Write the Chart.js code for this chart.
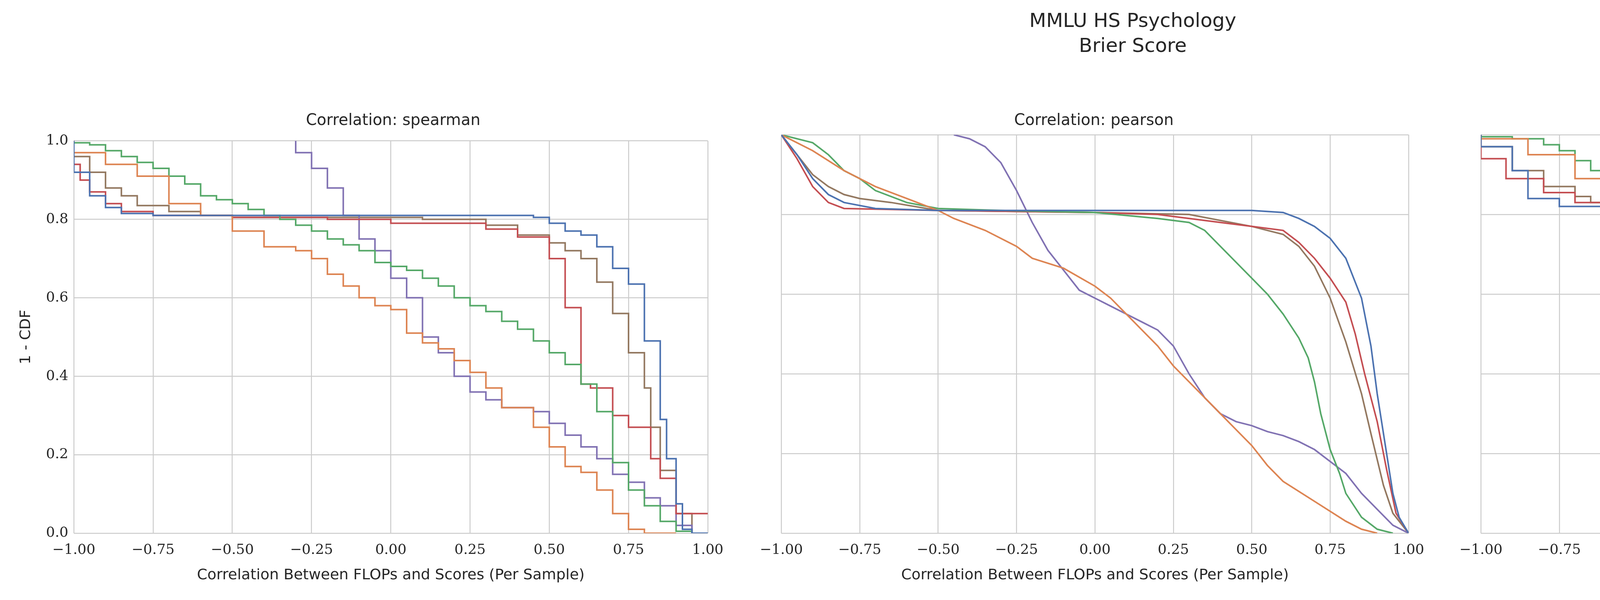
<!DOCTYPE html>
<html>
<head>
<meta charset="utf-8">
<script src="https://cdn.jsdelivr.net/npm/chart.js@4.4.0/dist/chart.umd.min.js"></script>
<style>
  body { margin: 0; width: 6541px; height: 1536px; background: #fff; position: relative; overflow: hidden; font-family: "DejaVu Sans", sans-serif; color: #262626; }
  canvas { position: absolute; }
  .txt { position: absolute; text-align: center; white-space: nowrap; }
  #legend { position: absolute; left: 5500px; top: 90px; font-size: 40px; }
  #legend .head { text-align: center; margin-bottom: 22px; margin-left: 40px; }
  #legend .row { display: flex; align-items: center; height: 62px; }
  #legend .sw { width: 88px; height: 5px; margin-right: 22px; }
</style>
</head>
<body>
<div class="txt" style="left:2400px;width:1000px;top:20px;font-size:50px;line-height:64px">MMLU HS Psychology<br>Brier Score</div>
<div id="legend"><div class="head">Model Family</div></div>

<script>
// model families and colours (seaborn deep)
const families = [
  'Cerebras (Param. and Data Scaling)',
  'INCITE 7B Param. (Data Scaling)',
  'LLM360 Amber 7B Tokens (Param Scaling)',
  'OLMo 7B Param. (Data Scaling)',
  'Pythia 12B Param. (Data Scaling)',
  'Pythia 300B Tokens (Param. Scaling)'
];
const colors = ['#4c72b0', '#dd8452', '#55a868', '#c44e52', '#8172b3', '#937860'];

const panelTitles = ['Correlation: spearman', 'Correlation: pearson', 'Correlation: kendall'];
const xTicks = [-1, -0.75, -0.5, -0.25, 0, 0.25, 0.5, 0.75, 1];
const yTicks = [0, 0.2, 0.4, 0.6, 0.8, 1.0];

// 1 - CDF points: [correlation, value]
const spearman = [
  [[-1,1],[-0.95,0.92],[-0.9,0.86],[-0.85,0.83],[-0.75,0.815],[-0.5,0.81],[0.45,0.81],[0.5,0.805],[0.55,0.79],[0.6,0.77],[0.65,0.76],[0.7,0.73],[0.75,0.675],[0.8,0.635],[0.85,0.49],[0.87,0.29],[0.9,0.19],[0.92,0.075],[0.95,0.01],[1,0]],
  [[-1,1],[-0.9,0.97],[-0.8,0.94],[-0.7,0.91],[-0.6,0.84],[-0.5,0.81],[-0.4,0.77],[-0.3,0.73],[-0.25,0.72],[-0.2,0.7],[-0.15,0.66],[-0.1,0.63],[-0.05,0.6],[0,0.58],[0.05,0.57],[0.1,0.51],[0.15,0.485],[0.2,0.47],[0.25,0.44],[0.3,0.41],[0.35,0.37],[0.45,0.32],[0.5,0.27],[0.55,0.22],[0.6,0.17],[0.65,0.155],[0.7,0.11],[0.75,0.05],[0.8,0.01],[0.9,0]],
  [[-1,1],[-0.95,0.995],[-0.9,0.99],[-0.85,0.975],[-0.8,0.96],[-0.75,0.945],[-0.7,0.93],[-0.65,0.91],[-0.6,0.89],[-0.55,0.86],[-0.5,0.85],[-0.45,0.84],[-0.4,0.825],[-0.35,0.81],[-0.3,0.8],[-0.25,0.785],[-0.2,0.77],[-0.15,0.75],[-0.1,0.735],[-0.05,0.72],[0,0.69],[0.05,0.68],[0.1,0.67],[0.15,0.65],[0.2,0.63],[0.25,0.6],[0.3,0.58],[0.35,0.565],[0.4,0.54],[0.45,0.52],[0.5,0.49],[0.55,0.46],[0.6,0.43],[0.65,0.38],[0.7,0.31],[0.75,0.18],[0.8,0.11],[0.85,0.07],[0.9,0.03],[0.95,0.005],[1,0]],
  [[-1,1],[-0.98,0.94],[-0.95,0.9],[-0.9,0.87],[-0.85,0.84],[-0.75,0.82],[-0.5,0.81],[-0.2,0.805],[0,0.8],[0.2,0.79],[0.3,0.79],[0.4,0.775],[0.5,0.755],[0.55,0.7],[0.6,0.575],[0.63,0.38],[0.7,0.37],[0.75,0.3],[0.82,0.27],[0.85,0.19],[0.9,0.14],[0.95,0.05],[1,0.05]],
  [[-0.3,1],[-0.25,0.97],[-0.2,0.93],[-0.15,0.88],[-0.1,0.81],[-0.05,0.75],[0,0.72],[0.05,0.65],[0.1,0.6],[0.15,0.5],[0.2,0.46],[0.25,0.4],[0.3,0.36],[0.35,0.34],[0.45,0.32],[0.5,0.31],[0.55,0.28],[0.6,0.25],[0.65,0.22],[0.7,0.19],[0.75,0.15],[0.8,0.13],[0.85,0.09],[0.9,0.07],[0.95,0.02],[1,0]],
  [[-1,1],[-0.95,0.96],[-0.9,0.92],[-0.85,0.88],[-0.8,0.86],[-0.7,0.835],[-0.6,0.82],[-0.5,0.81],[0.1,0.805],[0.3,0.8],[0.4,0.785],[0.5,0.76],[0.55,0.74],[0.6,0.72],[0.65,0.7],[0.7,0.64],[0.75,0.56],[0.8,0.46],[0.82,0.37],[0.85,0.27],[0.9,0.16],[0.95,0.05],[1,0]]
];
const pearson = [
  [[-1,1],[-0.95,0.95],[-0.9,0.89],[-0.85,0.85],[-0.8,0.83],[-0.7,0.815],[-0.5,0.81],[0.5,0.81],[0.6,0.805],[0.65,0.79],[0.7,0.77],[0.75,0.74],[0.8,0.69],[0.85,0.59],[0.88,0.47],[0.9,0.35],[0.93,0.2],[0.95,0.1],[0.97,0.04],[1,0]],
  [[-1,1],[-0.9,0.96],[-0.8,0.91],[-0.7,0.87],[-0.6,0.84],[-0.5,0.81],[-0.45,0.79],[-0.35,0.76],[-0.25,0.72],[-0.2,0.69],[-0.1,0.665],[0,0.62],[0.05,0.59],[0.1,0.55],[0.15,0.51],[0.2,0.47],[0.25,0.42],[0.3,0.38],[0.35,0.34],[0.4,0.3],[0.45,0.26],[0.5,0.22],[0.55,0.17],[0.6,0.13],[0.7,0.08],[0.8,0.03],[0.85,0.01],[0.9,0]],
  [[-1,1],[-0.9,0.98],[-0.85,0.95],[-0.8,0.91],[-0.75,0.89],[-0.7,0.86],[-0.6,0.83],[-0.5,0.815],[-0.3,0.81],[0,0.805],[0.2,0.79],[0.3,0.78],[0.35,0.76],[0.4,0.72],[0.45,0.68],[0.5,0.64],[0.55,0.6],[0.6,0.55],[0.65,0.49],[0.68,0.44],[0.7,0.38],[0.72,0.3],[0.75,0.21],[0.78,0.15],[0.8,0.1],[0.85,0.04],[0.9,0.01],[0.95,0]],
  [[-1,1],[-0.95,0.94],[-0.9,0.87],[-0.85,0.83],[-0.8,0.815],[-0.5,0.81],[0,0.805],[0.2,0.8],[0.4,0.78],[0.5,0.77],[0.6,0.76],[0.65,0.73],[0.7,0.69],[0.75,0.64],[0.8,0.58],[0.83,0.5],[0.86,0.4],[0.9,0.28],[0.93,0.16],[0.96,0.05],[1,0]],
  [[-0.45,1],[-0.4,0.99],[-0.35,0.97],[-0.3,0.93],[-0.25,0.86],[-0.2,0.78],[-0.15,0.71],[-0.1,0.66],[-0.05,0.61],[0,0.59],[0.05,0.57],[0.1,0.55],[0.15,0.53],[0.2,0.51],[0.25,0.47],[0.3,0.4],[0.35,0.34],[0.4,0.3],[0.45,0.28],[0.5,0.27],[0.55,0.255],[0.6,0.245],[0.65,0.23],[0.7,0.21],[0.75,0.18],[0.8,0.15],[0.85,0.1],[0.9,0.06],[0.95,0.02],[1,0]],
  [[-1,1],[-0.95,0.95],[-0.9,0.9],[-0.85,0.87],[-0.8,0.85],[-0.75,0.84],[-0.65,0.83],[-0.5,0.81],[0,0.805],[0.3,0.8],[0.5,0.77],[0.6,0.75],[0.65,0.72],[0.7,0.67],[0.75,0.59],[0.8,0.48],[0.85,0.35],[0.88,0.25],[0.92,0.12],[0.95,0.05],[1,0]]
];
const kendall = [
  [[-1,1],[-0.9,0.97],[-0.85,0.91],[-0.75,0.84],[-0.6,0.82],[-0.5,0.81],[0.45,0.81],[0.5,0.77],[0.58,0.69],[0.62,0.5],[0.7,0.25],[0.78,0.075],[0.9,0.005],[1,0]],
  [[-1,1],[-0.85,0.99],[-0.7,0.95],[-0.55,0.89],[-0.45,0.83],[-0.3,0.76],[-0.2,0.69],[-0.08,0.59],[0.08,0.49],[0.2,0.375],[0.35,0.235],[0.5,0.13],[0.6,0.05],[0.75,0.005],[1,0]],
  [[-1,1],[-0.9,0.995],[-0.8,0.99],[-0.75,0.975],[-0.7,0.96],[-0.65,0.935],[-0.6,0.91],[-0.55,0.885],[-0.5,0.86],[-0.45,0.84],[-0.4,0.82],[-0.35,0.81],[-0.3,0.8],[-0.25,0.78],[-0.2,0.76],[-0.15,0.735],[-0.1,0.71],[-0.05,0.69],[0,0.67],[0.05,0.65],[0.1,0.63],[0.15,0.61],[0.2,0.59],[0.25,0.565],[0.3,0.54],[0.35,0.5],[0.4,0.45],[0.45,0.4],[0.5,0.34],[0.55,0.28],[0.6,0.2],[0.65,0.12],[0.7,0.05],[0.75,0.01],[0.8,0]],
  [[-1,0.99],[-0.92,0.94],[-0.8,0.89],[-0.7,0.855],[-0.6,0.83],[-0.45,0.81],[-0.25,0.805],[0,0.8],[0.1,0.79],[0.2,0.78],[0.3,0.77],[0.4,0.74],[0.45,0.69],[0.5,0.49],[0.6,0.39],[0.68,0.31],[0.72,0.23],[0.8,0.14],[0.9,0.05],[1,0.05]],
  [[-0.4,1],[-0.35,0.97],[-0.25,0.92],[-0.15,0.84],[-0.05,0.72],[0,0.6],[0.05,0.5],[0.15,0.42],[0.25,0.37],[0.3,0.34],[0.35,0.31],[0.45,0.27],[0.5,0.21],[0.55,0.155],[0.6,0.12],[0.7,0.085],[0.75,0.05],[0.85,0.01],[0.9,0]],
  [[-1,1],[-0.9,0.97],[-0.8,0.91],[-0.7,0.87],[-0.65,0.845],[-0.55,0.83],[-0.45,0.81],[0.1,0.805],[0.3,0.8],[0.4,0.79],[0.5,0.77],[0.55,0.72],[0.6,0.67],[0.63,0.6],[0.65,0.48],[0.7,0.39],[0.73,0.27],[0.76,0.17],[0.8,0.12],[0.85,0.05],[0.9,0.01],[1,0]]
];
const panelData = [spearman, pearson, kendall];
// pearson curves are dense enough to read as smooth; others are drawn as steps
const panelStepped = ['after', false, 'after'];

// plot area placement (px)
const plotLefts = [189, 1983, 3774];
const plotWidth = 1635;
const plotTop = 345, plotHeight = 1020;

// legend
const legend = document.getElementById('legend');
families.forEach((name, i) => {
  let row = document.createElement('div');
  row.className = 'row';
  row.innerHTML = `<div class="sw" style="background:${colors[i]}"></div><span>${name}</span>`;
  legend.appendChild(row);
});

const fmt = v => (v < 0 ? '\u2212' : '') + Math.abs(v).toFixed(2);

panelData.forEach((series, p) => {
  const padLeft = p === 0 ? 40 : 0;
  const leftW = p === 0 ? plotLefts[0] - padLeft : 60;
  const padTop = 20, padRight = 50;
  let canvas = document.createElement('canvas');
  const w = padLeft + leftW + plotWidth + padRight;
  const h = 1536 - plotTop + padTop;
  canvas.width = w; canvas.height = h;
  canvas.style.left = (plotLefts[p] - leftW - padLeft) + 'px';
  canvas.style.top = (plotTop - padTop) + 'px';
  canvas.style.width = w + 'px'; canvas.style.height = h + 'px';
  document.body.appendChild(canvas);

  let title = document.createElement('div');
  title.className = 'txt';
  title.style.cssText = `left:${plotLefts[p]}px;width:${plotWidth}px;top:${plotTop - 62}px;font-size:40px`;
  title.textContent = panelTitles[p];
  document.body.appendChild(title);

  new Chart(canvas, {
    type: 'line',
    data: {
      datasets: series.map((pts, i) => ({
        label: families[i],
        data: pts.map(d => ({ x: d[0], y: d[1] })),
        borderColor: colors[i],
        borderWidth: 4,
        pointRadius: 0,
        stepped: panelStepped[p],
        fill: false
      }))
    },
    options: {
      responsive: false,
      animation: false,
      devicePixelRatio: 1,
      layout: { padding: { top: padTop, right: padRight, left: padLeft, bottom: 0 } },
      plugins: { legend: { display: false }, tooltip: { enabled: false } },
      scales: {
        x: {
          type: 'linear', min: -1, max: 1,
          afterBuildTicks: ax => { ax.ticks = xTicks.map(v => ({ value: v })); },
          afterFit: ax => { ax.height = h - padTop - plotHeight; },
          grid: { color: '#cccccc', lineWidth: 2.5, drawTicks: false },
          border: { display: false },
          ticks: { callback: fmt, padding: 22, maxRotation: 0, font: { family: 'DejaVu Serif', size: 36 }, color: '#262626' },
          title: { display: true, text: 'Correlation Between FLOPs and Scores (Per Sample)', font: { family: 'DejaVu Sans', size: 38 }, color: '#262626', padding: { top: 4, bottom: 40 } }
        },
        y: {
          min: 0, max: 1,
          afterBuildTicks: ax => { ax.ticks = yTicks.map(v => ({ value: v })); },
          afterFit: ax => { ax.width = leftW; },
          grid: { color: '#cccccc', lineWidth: 2.5, drawTicks: false },
          border: { display: false },
          ticks: { display: p === 0, callback: v => v.toFixed(1), padding: 14, font: { family: 'DejaVu Serif', size: 36 }, color: '#262626' },
          title: { display: p === 0, text: '1 - CDF', font: { family: 'DejaVu Sans', size: 38 }, color: '#262626' }
        }
      }
    }
  });
});
</script>
</body>
</html>
